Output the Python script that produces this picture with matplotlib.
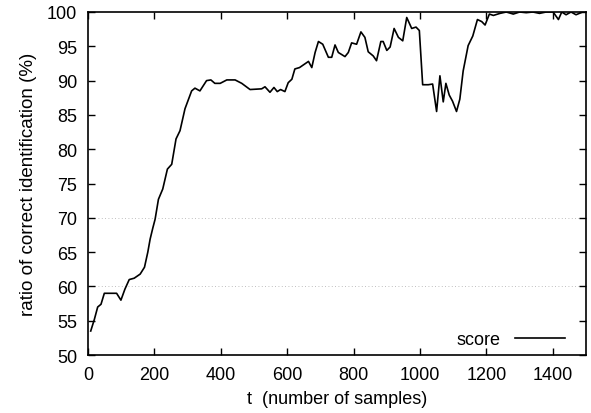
import matplotlib
matplotlib.use('Agg')
import matplotlib.pyplot as plt

plt.rcParams['font.family'] = ['Liberation Sans', 'DejaVu Sans']

# samples seen vs. identification score (%)
t = [8, 19, 29, 39, 49, 86, 99, 111, 124, 139, 157, 170, 180, 187, 195, 202, 212, 225,
     239, 252, 265, 277, 292, 312, 322, 337, 357, 370, 382, 398, 418, 443, 463, 488,
     523, 533, 548, 560, 570, 580, 593, 603, 614, 623, 637, 649, 664, 674, 684, 694,
     707, 724, 734, 744, 754, 774, 784, 794, 809, 822, 834, 844, 859, 869, 882, 889,
     900, 910, 922, 935, 948, 960, 975, 988, 998, 1008, 1025, 1038, 1050, 1060, 1070,
     1078, 1088, 1098, 1110, 1120, 1130, 1145, 1159, 1173, 1186, 1196, 1209, 1221,
     1241, 1260, 1281, 1300, 1320, 1340, 1360, 1380, 1401, 1417, 1427, 1440, 1455,
     1470, 1490]
score = [53.5, 55.2, 57.0, 57.4, 59.0, 59.0, 58.0, 59.6, 61.0, 61.2, 61.8, 62.8, 65.0,
         66.9, 68.5, 69.8, 72.7, 74.2, 77.1, 77.8, 81.5, 82.7, 85.9, 88.5, 88.9, 88.5,
         90.0, 90.1, 89.6, 89.6, 90.1, 90.1, 89.6, 88.7, 88.8, 89.1, 88.3, 89.0, 88.4,
         88.7, 88.4, 89.7, 90.2, 91.7, 91.9, 92.3, 92.8, 91.9, 94.1, 95.7, 95.3, 93.4,
         93.4, 95.2, 94.1, 93.5, 94.1, 95.5, 95.3, 97.1, 96.3, 94.2, 93.6, 92.9, 95.7,
         95.7, 94.4, 94.9, 97.6, 96.3, 95.8, 99.2, 97.6, 97.8, 97.3, 89.4, 89.4, 89.5,
         85.5, 90.7, 86.9, 89.6, 87.9, 87.0, 85.5, 87.3, 91.4, 95.1, 96.5, 98.9, 98.6,
         98.1, 99.7, 99.5, 99.8, 100.0, 99.7, 100.0, 99.9, 100.0, 99.8, 100.0, 100.0,
         98.9, 100.0, 99.6, 100.0, 99.6, 100.0]

xticks = [0, 200, 400, 600, 800, 1000, 1200, 1400]
yticks = [50, 55, 60, 65, 70, 75, 80, 85, 90, 95, 100]

fig = plt.figure(figsize=(5.91, 4.14), dpi=100)
ax = fig.add_axes([0.149, 0.140, 0.8425, 0.8286])

# faint dotted lines left over in the scan
for yv in (60, 70):
    ax.axhline(yv, color='#aaaaaa', lw=0.6, ls=(0, (1, 3)), zorder=1)

ax.plot(t, score, color='black', lw=1.2, label='score', zorder=3)

ax.set_xlim(0, 1500)
ax.set_ylim(50, 100)
ax.set_xticks(xticks)
ax.set_yticks(yticks)
ax.tick_params(direction='in', length=5, width=1, top=True, right=True,
               labelsize=13, pad=8)
for s in ax.spines.values():
    s.set_linewidth(1.2)

ax.set_xlabel('t  (number of samples)', fontsize=13, labelpad=5)
ax.set_ylabel('ratio of correct identification (%)', fontsize=13.5, labelpad=7)

ax.legend(loc='lower right', bbox_to_anchor=(0.958, 0.02), frameon=False,
          markerfirst=False, handlelength=2.8, handletextpad=0.75,
          borderpad=0, borderaxespad=0, fontsize=13)

fig.savefig('out.png', dpi=100)
